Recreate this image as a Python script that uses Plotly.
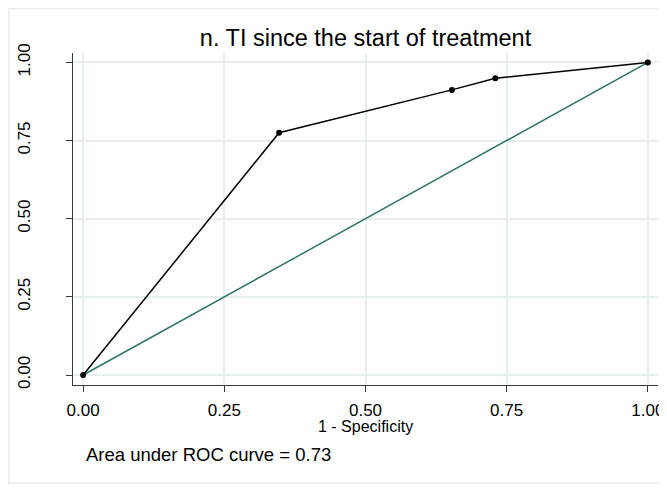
import plotly.graph_objects as go

# ROC data
fpr = [0.0, 0.347, 0.653, 0.730, 1.0]
tpr = [0.0, 0.775, 0.912, 0.949, 1.0]
ref_x = [0.0, 1.0]
ref_y = [0.0, 1.0]
tick_vals = [0.0, 0.25, 0.5, 0.75, 1.0]
tick_text = ["0.00", "0.25", "0.50", "0.75", "1.00"]
title_text = "n. TI since the start of treatment"
xlabel = "1 - Specificity"
note = "Area under ROC curve = 0.73"

FONT = "Liberation Sans, Arial, sans-serif"
GRID = "#e6eef0"
AX = "#3a3a3a"

# page has an 8px body margin
W, H = 667, 476
L, T = 65, 45
PLOT_RIGHT = 658 - 8
R = W - PLOT_RIGHT
PLOT_BOTTOM = 385 - 8           # bottom of plot area in figure pixels
B = H - PLOT_BOTTOM
PW, PH = W - L - R, H - T - B

def py(screen_y):
    return -(screen_y - 8 - PLOT_BOTTOM) / PH

fig = go.Figure()
fig.add_trace(go.Scatter(x=ref_x, y=ref_y, mode="lines",
                         line=dict(color="#2f7468", width=1.5), hoverinfo="skip"))
fig.add_trace(go.Scatter(x=fpr, y=tpr, mode="lines+markers",
                         line=dict(color="black", width=1.5),
                         marker=dict(color="black", size=6)))

fig.update_layout(
    width=W, height=H,
    margin=dict(l=L, r=R, t=T, b=B, autoexpand=False),
    paper_bgcolor="white", plot_bgcolor="white",
    showlegend=False,
    font=dict(family=FONT, color="black", size=16),
    title=dict(text=title_text, x=(L + PW / 2) / W, xanchor="center",
               y=1 - 29.5 / H, yanchor="middle",
               font=dict(family=FONT, size=23.5, color="black")),
)
fig.update_xaxes(range=[-0.018, 1.018], tickvals=tick_vals, ticktext=tick_text,
                 showline=True, linecolor=AX, linewidth=1.2, mirror=False,
                 ticks="outside", ticklen=6, tickcolor=AX, tickwidth=1.2,
                 showgrid=True, gridcolor=GRID, gridwidth=1.5, zeroline=False,
                 tickfont=dict(size=17, family=FONT, color="black"),
                 ticklabelstandoff=3, automargin=False)
fig.update_yaxes(range=[-0.032, 1.03], tickvals=tick_vals, ticktext=tick_text,
                 showline=True, linecolor=AX, linewidth=1.2, mirror=False,
                 ticks="outside", ticklen=6, tickcolor=AX, tickwidth=1.2,
                 showgrid=True, gridcolor=GRID, gridwidth=1.5, zeroline=False,
                 tickangle=-90,
                 tickfont=dict(size=17, family=FONT, color="black"),
                 ticklabelstandoff=29, automargin=False)

# x-axis title and note
fig.add_annotation(text=xlabel, xref="x", yref="paper", x=0.5, y=py(426),
                   xanchor="center", yanchor="middle", showarrow=False,
                   font=dict(size=16, family=FONT, color="black"))
fig.add_annotation(text=note, xref="paper", yref="paper", x=(84 - 8 - L) / PW,
                   y=py(454), xanchor="left", yanchor="middle",
                   showarrow=False, font=dict(size=18.5, family=FONT, color="black"))

# outer frame (clipped at the page edges)
fig.add_shape(type="rect", xref="paper", yref="paper",
              x0=-(L - 0.75) / PW, x1=(W + 5 - L) / PW,
              y0=-(H - 0.75 - PLOT_BOTTOM) / PH, y1=(PLOT_BOTTOM - 0.75) / PH,
              line=dict(color="#e8eef0", width=1.5), layer="below")

fig.write_html("out.html")
